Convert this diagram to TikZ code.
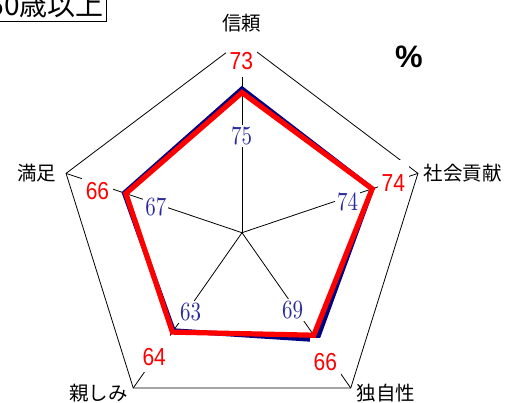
\documentclass[tikz,border=0pt]{standalone}
\usepackage{fontspec}
\usepackage{graphicx}
\newfontfamily\cjk{Noto Sans CJK JP}
\newfontfamily\arial{Liberation Sans}
\newfontfamily\lmten{lmroman10-regular}[Extension=.otf]
\definecolor{navy}{HTML}{000080}
\definecolor{lblue}{HTML}{2A2A9E}
\begin{document}
\begin{tikzpicture}[x=1pt,y=-1pt,
  grid/.style={draw=black, line width=0.8pt},
  redlab/.style={fill=white, text=red, font=\arial\fontsize{21}{21}\selectfont,
    inner xsep=4pt, inner ysep=1pt, text height=31pt, text depth=6pt, anchor=base},
  bluelab/.style={fill=white, text=lblue, font=\lmten\fontsize{21}{21}\selectfont,
    inner sep=2pt},
  cjklab/.style={font=\cjk\fontsize{19.5}{19.5}\selectfont, inner sep=0pt},
  bluepoly/.style={draw=navy, line width=4.5pt},
  redpoly/.style={draw=red, line width=5.2pt}
]
\useasboundingbox (0,0) rectangle (506,403);
\fill[white] (0,0) rectangle (506,403);
\begin{scope}[shift={(242,232.7)}, x=185pt, y=192pt]
  \coordinate (C0) at (0,0);
  \coordinate (OA) at (90:1);
  \coordinate (OB) at (18:1);
  \coordinate (OC) at (-54:1);
  \coordinate (OD) at (-126:1);
  \coordinate (OE) at (162:1);
  \draw[grid] (OA) -- (OB) -- (OC) -- (OD) -- (OE) -- cycle;
  \foreach \n in {A,B,C,D,E} \draw[grid] (C0) -- (O\n);
  \coordinate (bA) at (90:0.75);
  \coordinate (bB) at (18:0.74);
  \coordinate (bC) at (-54:0.69);
  \coordinate (bD) at (-126:0.63);
  \coordinate (bE) at (162:0.67);
  \coordinate (rA) at (90:0.73);
  \coordinate (rB) at (18:0.74);
  \coordinate (rC) at (-54:0.66);
  \coordinate (rD) at (-126:0.64);
  \coordinate (rE) at (162:0.66);
  \draw[bluepoly] (bA) -- (bB) -- (bC) -- (bD) -- (bE) -- cycle;
  \draw[redpoly] (rA) -- (rB) -- (rC) -- (rD) -- (rE) -- cycle;
\end{scope}
% blue value labels
\node[bluelab] (vA) at (241.7,136.3) {\scalebox{1}[1.25]{75}};
\node[bluelab] (vB) at (347.5,202) {\scalebox{1}[1.25]{74}};
\node[bluelab] (vC) at (292.5,310.3) {\scalebox{1}[1.25]{69}};
\node[bluelab] (vD) at (190.5,312) {\scalebox{1}[1.25]{63}};
\node[bluelab] (vE) at (155.8,207) {\scalebox{1}[1.25]{67}};
% red value labels
\node[redlab] (wA) at (241.3,70) {\scalebox{1}[1.17]{73}};
\node[redlab] (wB) at (393.3,191.7) {\scalebox{1}[1.17]{74}};
\node[redlab] (wC) at (325.3,370) {\scalebox{1}[1.17]{66}};
\node[redlab] (wD) at (154.2,365) {\scalebox{1}[1.17]{64}};
\node[redlab] (wE) at (97.5,200) {\scalebox{1}[1.17]{66}};
% axis labels
\node[cjklab] (lA) at (241.7,23.5) {信頼};
\node[cjklab] (lB) at (462.5,173) {社会貢献};
\node[cjklab] (lC) at (386,393) {独自性};
\node[cjklab] (lD) at (98.5,393) {親しみ};
\node[cjklab] (lE) at (36.5,173) {満足};
% percent sign
\node[font=\arial\bfseries\fontsize{31}{31}\selectfont, inner sep=0pt] (pct) at (409,56.5) {\%};
% title box
\node[draw, line width=0.8pt, anchor=base east, font=\cjk\fontsize{28}{28}\selectfont,
  inner xsep=3pt, inner ysep=2pt, text depth=3pt] (title) at (107,16) {60歳以上};
\end{tikzpicture}
\end{document}
